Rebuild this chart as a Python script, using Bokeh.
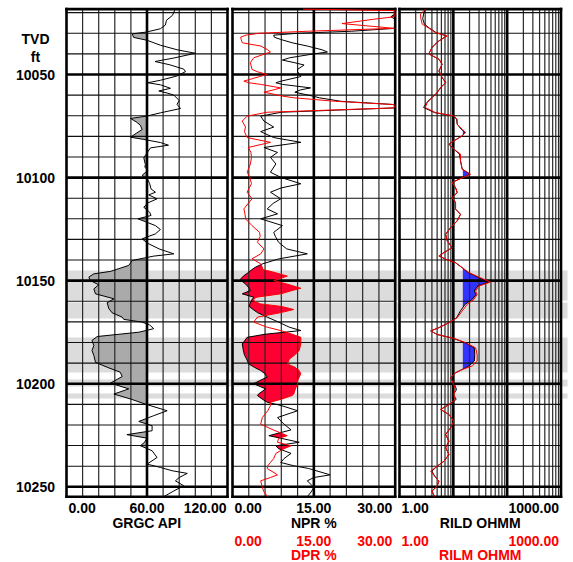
import numpy as np
from bokeh.plotting import figure
from bokeh.models import Range1d, LogScale, Label, BoxAnnotation
from bokeh.core.properties import value
from bokeh.embed import file_html
from bokeh.resources import INLINE

# ---------------------------------------------------------------- data
gr_depth = [10018.3, 10021.3, 10023.7, 10026.0, 10027.8, 10029.4, 10030.3, 10032.0, 10033.4, 10035.8,
            10038.0, 10039.7, 10042.0, 10043.7, 10045.3, 10047.4, 10048.6, 10050.7, 10052.8, 10054.0,
            10055.0, 10056.7, 10058.0, 10059.0, 10060.0, 10062.6, 10064.5, 10066.5, 10068.6, 10070.2,
            10071.3, 10073.0, 10074.6, 10076.7, 10078.5, 10080.4, 10081.5, 10083.0, 10084.3, 10085.6,
            10087.5, 10090.4, 10093.7, 10094.9, 10096.5, 10098.9, 10101.0, 10103.0, 10105.5, 10107.1,
            10108.4, 10110.3, 10112.3, 10114.4, 10116.8, 10118.4, 10120.0, 10121.7, 10123.3, 10125.2,
            10127.3, 10129.7, 10131.7, 10134.6, 10137.0, 10138.1, 10140.2, 10142.6, 10145.5, 10146.7,
            10148.3, 10150.0, 10152.0, 10154.0, 10156.4, 10157.5, 10158.8, 10160.7, 10163.6, 10165.6,
            10167.7, 10168.8, 10170.1, 10171.5, 10173.3, 10175.0, 10177.1, 10179.0, 10181.5, 10183.9,
            10186.3, 10189.6, 10192.0, 10194.4, 10196.5, 10199.7, 10202.5, 10205.0, 10207.4, 10209.9,
            10213.1, 10215.5, 10218.3, 10220.4, 10222.8, 10224.7, 10226.4, 10228.5, 10230.1, 10232.5,
            10235.8, 10239.0, 10240.6, 10242.2, 10243.5, 10245.5, 10247.1, 10249.5, 10252.0, 10254.8]
gr_api = [81.0, 79.0, 74.5, 73.7, 70.0, 59.6, 49.0, 50.0, 60.0, 70.0,
          82.4, 96.0, 80.0, 66.0, 77.0, 87.4, 88.7, 82.4, 70.0, 60.6,
          70.0, 77.5, 68.8, 75.0, 80.0, 84.0, 82.4, 85.0, 70.0, 59.6,
          47.7, 52.0, 55.0, 56.4, 52.0, 47.7, 57.6, 70.0, 76.0, 62.6,
          60.6, 57.6, 58.8, 58.4, 60.6, 56.4, 60.6, 62.0, 63.0, 66.3,
          61.3, 67.5, 60.6, 57.6, 62.0, 63.0, 53.2, 60.0, 66.3, 70.0,
          66.3, 56.4, 60.0, 69.0, 80.0, 65.0, 49.0, 46.4, 32.8, 20.4,
          16.6, 17.9, 24.0, 20.4, 21.6, 28.0, 35.3, 30.3, 31.6, 34.0,
          41.5, 42.7, 56.4, 62.0, 65.0, 53.9, 22.9, 19.0, 20.4, 19.0,
          20.4, 21.6, 30.3, 40.0, 41.5, 32.8, 46.4, 35.3, 47.7, 58.8,
          75.0, 65.0, 53.9, 63.8, 63.8, 45.0, 60.0, 58.0, 55.1, 63.8,
          67.5, 60.0, 70.0, 78.7, 90.0, 84.0, 81.2, 87.4, 80.0, 72.5]

por_depth = [10018.3, 10019.0, 10020.5, 10022.0, 10023.2, 10025.3, 10027.6, 10029.0, 10030.0, 10030.9,
             10031.9, 10033.0, 10034.6, 10036.2, 10038.0, 10039.1, 10040.0, 10041.9, 10043.0, 10044.3,
             10045.4, 10047.5, 10048.6, 10050.0, 10051.0, 10053.2, 10054.0, 10054.8, 10056.5, 10057.5,
             10058.6, 10060.6, 10061.3, 10063.0, 10064.6, 10066.2, 10068.3, 10070.2, 10072.6, 10075.5,
             10077.7, 10080.6, 10082.9, 10085.4, 10087.8, 10090.2, 10093.4, 10097.4, 10100.0, 10103.0,
             10105.0, 10107.1, 10110.3, 10112.5, 10115.2, 10117.6, 10120.0, 10123.3, 10126.6, 10128.5,
             10131.4, 10134.6, 10137.0, 10139.4, 10141.8, 10143.5, 10144.6, 10145.9, 10147.8, 10149.2,
             10150.0, 10151.6, 10153.7, 10154.8, 10156.4, 10158.0, 10158.8, 10160.0, 10161.3, 10162.5,
             10164.0, 10165.5, 10167.7, 10170.1, 10172.6, 10174.2, 10176.0, 10177.5, 10180.7, 10183.9,
             10186.0, 10188.0, 10190.4, 10192.0, 10193.6, 10195.2, 10196.8, 10198.5, 10200.0, 10202.5,
             10205.0, 10205.7, 10207.5, 10209.0, 10210.6, 10213.1, 10216.4, 10219.6, 10222.4, 10225.2,
             10226.5, 10228.4, 10230.1, 10231.5, 10233.8, 10236.3, 10238.2, 10239.8, 10241.1, 10244.2,
             10245.5, 10247.1, 10250.3, 10252.5, 10254.8]
npr = [30.0, 30.0, 30.0, 29.2, 30.0, 30.0, 30.0, 22.0, 12.0, 7.6,
       7.7, 8.9, 11.0, 13.8, 16.5, 17.5, 15.0, 10.5, 9.2, 11.5,
       13.2, 12.0, 12.0, 12.4, 12.6, 9.0, 8.0, 9.2, 14.4, 12.5,
       11.5, 15.0, 16.0, 20.0, 30.0, 30.0, 9.0, 5.2, 5.8, 7.6,
       5.2, 7.6, 12.6, 5.8, 8.3, 7.0, 8.0, 7.0, 9.0, 12.6,
       9.0, 7.0, 8.9, 7.5, 6.4, 8.3, 5.2, 9.2, 7.6, 7.9,
       8.5, 10.0, 13.8, 8.6, 5.6, 4.2, 3.6, 3.0, 2.0, 1.5,
       1.6, 2.4, 3.1, 3.3, 1.8, 3.9, 3.7, 3.4, 3.2, 3.1,
       3.8, 4.6, 6.4, 8.5, 10.5, 12.6, 6.0, 2.7, 1.8, 2.0,
       2.2, 2.6, 3.0, 4.0, 5.2, 6.0, 6.4, 5.0, 3.9, 6.1,
       4.8, 4.6, 5.5, 6.4, 9.0, 12.0, 8.3, 9.5, 10.8, 6.7,
       9.0, 12.3, 8.0, 8.5, 10.8, 9.5, 8.9, 11.3, 14.0, 18.0,
       15.0, 13.8, 15.0, 14.5, 13.8]
dpr = [13.0, 29.8, 29.8, 29.8, 26.0, 20.2, 29.8, 14.0, 4.9, 2.5,
       1.5, 1.6, 1.8, 5.2, 6.5, 7.0, 6.0, 3.9, 3.6, 3.3,
       3.4, 3.6, 4.5, 6.4, 5.0, 2.1, 3.0, 5.2, 8.9, 7.5,
       5.8, 9.5, 11.3, 19.0, 29.8, 29.8, 6.4, 2.7, 1.8, 2.4,
       2.2, 2.7, 7.0, 2.9, 3.4, 3.5, 3.3, 2.7, 3.2, 3.5,
       3.1, 2.7, 3.6, 2.9, 2.1, 2.3, 2.4, 3.6, 5.0, 5.1,
       4.6, 5.8, 5.2, 3.6, 5.2, 5.5, 5.6, 7.6, 10.1, 8.5,
       7.6, 10.0, 12.6, 11.0, 8.9, 4.5, 3.9, 4.0, 5.2, 9.0,
       11.3, 8.9, 4.6, 3.9, 6.4, 8.9, 11.0, 12.6, 12.6, 12.3,
       11.5, 10.5, 10.1, 11.5, 12.3, 12.6, 12.3, 12.0, 12.0, 11.6,
       11.3, 11.0, 9.0, 7.0, 7.0, 6.5, 5.5, 5.2, 7.5, 10.1,
       8.5, 8.3, 10.8, 9.5, 8.0, 7.6, 7.0, 6.5, 6.4, 8.3,
       7.0, 5.2, 5.5, 5.8, 6.5]

res_depth = [10018.3, 10020.7, 10023.0, 10025.6, 10027.5, 10029.7, 10031.3, 10033.7, 10035.5, 10037.0,
             10040.0, 10042.6, 10045.0, 10048.3, 10051.5, 10053.9, 10056.4, 10058.8, 10061.2, 10063.6,
             10066.0, 10068.5, 10070.1, 10071.7, 10074.1, 10076.5, 10078.1, 10079.8, 10082.2, 10083.8,
             10086.2, 10088.6, 10091.9, 10095.9, 10098.4, 10100.8, 10102.4, 10104.9, 10107.3, 10109.7,
             10112.1, 10115.3, 10117.8, 10121.0, 10124.3, 10127.5, 10130.7, 10134.0, 10136.4, 10138.0,
             10139.6, 10141.3, 10143.7, 10146.1, 10148.6, 10150.7, 10152.6, 10155.0, 10156.7, 10159.1,
             10161.5, 10164.7, 10168.0, 10170.4, 10172.8, 10174.4, 10176.1, 10178.0, 10180.1, 10182.6,
             10185.8, 10189.0, 10191.4, 10193.1, 10194.7, 10197.1, 10200.4, 10202.8, 10205.2, 10207.6,
             10210.1, 10212.5, 10214.9, 10218.2, 10221.4, 10224.6, 10227.9, 10231.1, 10234.3, 10237.6,
             10240.0, 10242.4, 10244.8, 10247.3, 10249.7, 10252.1, 10254.8]
rild = [3.0, 2.8, 2.7, 2.9, 3.6, 4.8, 7.5, 5.4, 4.5, 4.0,
        3.5, 5.4, 6.2, 5.4, 6.2, 7.2, 5.8, 5.0, 4.0, 3.2,
        2.8, 4.5, 10.0, 11.5, 11.8, 14.0, 16.5, 14.6, 10.2, 8.3,
        10.2, 13.0, 13.6, 14.6, 20.5, 12.7, 9.5, 11.0, 11.8, 9.5,
        11.0, 11.0, 13.6, 11.8, 8.9, 7.2, 7.7, 9.5, 6.7, 5.4,
        7.2, 11.0, 14.6, 19.0, 30.0, 46.0, 28.5, 24.5, 26.5, 22.5,
        16.5, 13.5, 11.5, 8.3, 5.4, 3.8, 5.0, 10.0, 16.5, 24.5,
        25.0, 24.5, 19.5, 14.6, 11.0, 8.9, 10.5, 11.5, 10.0, 11.3,
        8.3, 5.8, 8.3, 10.2, 8.9, 7.2, 8.3, 7.2, 8.3, 6.7,
        5.0, 4.0, 4.5, 5.4, 5.0, 4.0, 4.5]
rilm = [3.04, 2.45, 2.5, 2.64, 3.5, 4.67, 7.7, 5.4, 4.5, 4.0,
        3.5, 5.4, 6.2, 5.4, 6.2, 7.2, 5.8, 5.0, 4.0, 3.3,
        3.0, 4.67, 10.2, 11.8, 11.8, 14.6, 16.9, 14.6, 10.2, 8.3,
        10.2, 13.6, 13.6, 14.6, 20.9, 12.7, 9.5, 11.0, 11.8, 9.5,
        11.0, 11.0, 13.6, 11.8, 8.9, 7.2, 7.7, 9.5, 6.7, 5.4,
        7.2, 11.0, 14.6, 19.5, 32.0, 49.0, 29.9, 25.9, 27.7, 24.1,
        18.1, 14.6, 11.8, 8.3, 5.4, 3.8, 5.0, 10.2, 16.9, 25.9,
        27.7, 27.7, 22.4, 14.6, 11.0, 8.9, 10.2, 11.0, 10.2, 11.0,
        8.3, 5.8, 8.3, 10.2, 8.9, 7.2, 8.3, 7.2, 8.3, 6.7,
        5.0, 3.8, 4.5, 5.4, 5.0, 4.0, 4.5]

band_top = [10145.1, 10160.6, 10177.6, 10198.0, 10204.7]
band_bottom = [10159.6, 10168.4, 10194.6, 10201.4, 10207.2]

depth_ticks = [10050, 10100, 10150, 10200, 10250]
gr_scale = [0, 60, 120]
por_scale = [0, 15, 30]
res_scale = [1, 1000]
gr_cutoff = 60.0
res_cutoff = 15.0

# ---------------------------------------------------------------- layout
FONT = "Liberation Sans"
W, H = 573, 562
FRAME_L, FRAME_R, FRAME_T, FRAME_B = 0, W, 0, H      # frame = whole canvas
REF_DEPTH, REF_PX, PX_PER_FT = 10050.0, 74.0, 2.0615
TRACK_TOP, TRACK_BOT = 10018.3, 10254.85
RED = "#ff0000"


def depth_at(py):
    return REF_DEPTH + (py - REF_PX) / PX_PER_FT


TRACKS = {
    "gr": dict(lo=0.0, hi=120.0, px0=66.0, px1=227.0, log=False),
    "por": dict(lo=0.0, hi=30.0, px0=232.0, px1=394.7, log=False),
    "res": dict(lo=1.0, hi=1000.0, px0=399.0, px1=560.5, log=True),
}


def track_range(t):
    a, b = (np.log10(t["lo"]), np.log10(t["hi"])) if t["log"] else (t["lo"], t["hi"])
    s = (b - a) / (t["px1"] - t["px0"])
    start = a + (FRAME_L - t["px0"]) * s
    end = a + (FRAME_R - t["px0"]) * s
    if t["log"]:
        return Range1d(10 ** start, 10 ** end)
    return Range1d(start, end)


def px_to_val(name, px):
    t = TRACKS[name]
    a, b = (np.log10(t["lo"]), np.log10(t["hi"])) if t["log"] else (t["lo"], t["hi"])
    v = a + (px - t["px0"]) * (b - a) / (t["px1"] - t["px0"])
    return 10 ** v if t["log"] else v


p = figure(width=W, height=H, output_backend="svg", toolbar_location=None,
           x_range=Range1d(0, 1),
           y_range=Range1d(depth_at(FRAME_B), depth_at(FRAME_T)),
           x_axis_location=None, y_axis_location=None,
           min_border=0, min_border_left=0, min_border_right=0,
           min_border_top=0, min_border_bottom=0)
p.extra_x_ranges = {k: track_range(t) for k, t in TRACKS.items()}
p.extra_x_scales = {"res": LogScale()}
p.outline_line_color = None
p.background_fill_color = "white"
p.border_fill_color = "white"
for g in p.grid:
    g.visible = False

# ---------------------------------------------------------------- bands
for top, bot in zip(band_top, band_bottom):
    p.add_layout(BoxAnnotation(top=top, bottom=bot, left=0, right=px_to_val("gr", 567),
                               x_range_name="gr",
                               fill_color="#dcdcdc", fill_alpha=1.0,
                               line_color=None, level="underlay"))


# ---------------------------------------------------------------- fills
def fill_between(y, a, b, log=False):
    """area from a to b wherever b > a (crossing points inserted)."""
    y = np.asarray(y, float)
    fa = np.asarray(a, float)
    fb = np.asarray(b, float)
    if log:
        fa, fb = np.log10(fa), np.log10(fb)
    ys, x1, x2 = [], [], []
    for i in range(len(y)):
        if i > 0:
            d0 = fb[i - 1] - fa[i - 1]
            d1 = fb[i] - fa[i]
            if d0 * d1 < 0:
                t = d0 / (d0 - d1)
                yc = y[i - 1] + t * (y[i] - y[i - 1])
                xc = fa[i - 1] + t * (fa[i] - fa[i - 1])
                ys.append(yc); x1.append(xc); x2.append(xc)
        ys.append(y[i]); x1.append(fa[i]); x2.append(max(fa[i], fb[i]))
    x1, x2 = np.array(x1), np.array(x2)
    if log:
        x1, x2 = 10 ** x1, 10 ** x2
    return np.array(ys), x1, x2


yy, xa, xb = fill_between(gr_depth, gr_api, [gr_cutoff] * len(gr_api))
p.harea(x1=xa, x2=xb, y=yy, x_range_name="gr", fill_color="#aaaaaa")

yy, xa, xb = fill_between(por_depth, npr, dpr)
p.harea(x1=xa, x2=xb, y=yy, x_range_name="por", fill_color="#ff0033")

yy, xa, xb = fill_between(res_depth, [res_cutoff] * len(rild), rild, log=True)
p.harea(x1=xa, x2=xb, y=yy, x_range_name="res", fill_color="#3333ff")

# ---------------------------------------------------------------- grid
depth_minor = [d for d in range(10020, 10251, 10) if d % 50]
depth_major = list(range(10050, 10251, 50))
VGRID = {
    "gr": ([12, 24, 36, 48, 72, 84, 96, 108], [60]),
    "por": ([3, 6, 9, 12, 18, 21, 24, 27], [15]),
    "res": ([k * 10 ** e for e in range(3) for k in range(2, 10)], [10, 100]),
}
THIN_V, THIN_H, THICK = 1.2, 1.1, 2.6


def vseg(name, vals, color, width):
    n = len(vals)
    p.segment(x0=vals, x1=vals, y0=[TRACK_TOP] * n, y1=[TRACK_BOT] * n,
              x_range_name=name, line_color=color, line_width=width)


def hseg(name, depths, color, width):
    t = TRACKS[name]
    n = len(depths)
    p.segment(x0=[t["lo"]] * n, x1=[t["hi"]] * n, y0=depths, y1=depths,
              x_range_name=name, line_color=color, line_width=width)


for name, t in TRACKS.items():
    minor, major = VGRID[name]
    vseg(name, minor, "#2a2a2a", THIN_V)
    hseg(name, depth_minor, "#111111", THIN_H)
    vseg(name, major, "black", THICK)
    hseg(name, depth_major, "black", THICK)
    p.segment(x0=[t["lo"], t["hi"], t["lo"], t["lo"]],
              x1=[t["lo"], t["hi"], t["hi"], t["hi"]],
              y0=[TRACK_TOP, TRACK_TOP, TRACK_TOP, TRACK_BOT],
              y1=[TRACK_BOT, TRACK_BOT, TRACK_TOP, TRACK_BOT],
              x_range_name=name, line_color="black", line_width=THICK,
              line_cap="square")

# ---------------------------------------------------------------- curves
p.line(gr_api, gr_depth, x_range_name="gr", line_color="black", line_width=1)
p.line(npr, por_depth, x_range_name="por", line_color="black", line_width=1)
p.line(dpr, por_depth, x_range_name="por", line_color=RED, line_width=1)
p.line(rild, res_depth, x_range_name="res", line_color="black", line_width=1)
p.line(rilm, res_depth, x_range_name="res", line_color=RED, line_width=1)

# ---------------------------------------------------------------- depth labels
DEPTH_LABEL_X = px_to_val("gr", 35)
p.text(x=[DEPTH_LABEL_X] * len(depth_ticks), y=depth_ticks,
       text=[str(d) for d in depth_ticks], x_range_name="gr",
       text_align="center", text_baseline="middle",
       text_font=value(FONT), text_font_style="bold",
       text_font_size="14px", text_color="black")


# ---------------------------------------------------------------- labels
def label(text, name, x, py, align="center", color="black", dx=0):
    p.add_layout(Label(x=x, y=depth_at(py), x_range_name=name, text=text,
                       text_align=align, text_baseline="middle", x_offset=dx,
                       text_font=FONT, text_font_style="bold",
                       text_font_size="14px", text_color=color))


ROW_VAL, ROW_NAME, ROW_VAL2, ROW_NAME2 = 507.5, 522.5, 540.5, 554.5

label("TVD", "gr", DEPTH_LABEL_X, 38.3)
label("ft", "gr", DEPTH_LABEL_X, 56.0)

fmt = lambda v: "%.2f" % v

label(fmt(gr_scale[0]), "gr", gr_scale[0], ROW_VAL, "left", dx=2)
label(fmt(gr_scale[1]), "gr", gr_scale[1], ROW_VAL, "center")
label(fmt(gr_scale[2]), "gr", gr_scale[2], ROW_VAL, "right", dx=-1)
label("GRGC API", "gr", gr_scale[1], ROW_NAME)

for row, nrow, color, cname in [(ROW_VAL, ROW_NAME, "black", "NPR %"),
                                (ROW_VAL2, ROW_NAME2, RED, "DPR %")]:
    label(fmt(por_scale[0]), "por", por_scale[0], row, "left", color, dx=2)
    label(fmt(por_scale[1]), "por", por_scale[1], row, "center", color)
    label(fmt(por_scale[2]), "por", por_scale[2], row, "right", color, dx=-3)
    label(cname, "por", por_scale[1], nrow, "center", color)

res_mid = float(np.sqrt(res_scale[0] * res_scale[1]))
for row, nrow, color, cname in [(ROW_VAL, ROW_NAME, "black", "RILD OHMM"),
                                (ROW_VAL2, ROW_NAME2, RED, "RILM OHMM")]:
    label(fmt(res_scale[0]), "res", res_scale[0], row, "left", color, dx=2)
    label(fmt(res_scale[1]), "res", res_scale[1], row, "right", color, dx=-2)
    label(cname, "res", res_mid, nrow, "center", color)

open("out.html", "w").write(file_html(p, INLINE))
